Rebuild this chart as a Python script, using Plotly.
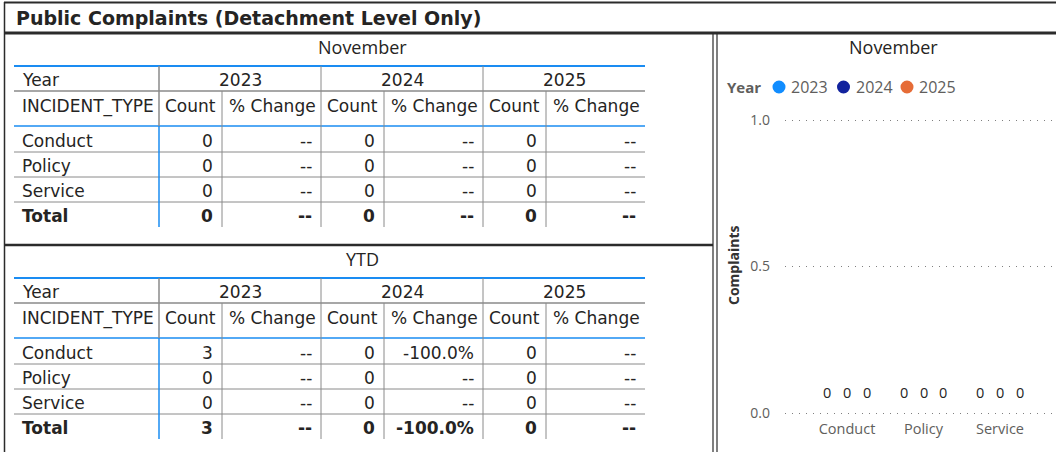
import plotly.graph_objects as go

# ---------------- data ----------------
years = ["2023", "2024", "2025"]
incident_types = ["Conduct", "Policy", "Service"]

# November table (per year: counts for Conduct, Policy, Service)
nov_counts = [[0, 0, 0], [0, 0, 0], [0, 0, 0]]
nov_pct = [["--", "--", "--"], ["--", "--", "--"], ["--", "--", "--"]]
nov_total_counts = [0, 0, 0]
nov_total_pct = ["--", "--", "--"]

# YTD table
ytd_counts = [[3, 0, 0], [0, 0, 0], [0, 0, 0]]
ytd_pct = [["--", "--", "--"], ["-100.0%", "--", "--"], ["--", "--", "--"]]
ytd_total_counts = [3, 0, 0]
ytd_total_pct = ["--", "-100.0%", "--"]

# November chart values (per year, per incident type)
chart_counts = [[0, 0, 0], [0, 0, 0], [0, 0, 0]]
chart_ticks = [0.0, 0.5, 1.0]
year_colors = ["#118DFF", "#12239E", "#E66C37"]

# ---------------- layout helpers ----------------
W, H = 1056, 452
TFONT = "DejaVu Sans"
CFONT = "Segoe UI, Open Sans, sans-serif"


def px(x):
    return x / W


def py(y):
    return 1 - y / H


shapes = []
annotations = []


def hline(x0, x1, y, color, width=1):
    shapes.append(dict(type="line", xref="paper", yref="paper", x0=px(x0), x1=px(x1),
                       y0=py(y), y1=py(y), line=dict(color=color, width=width)))


def vline(x, y0, y1, color, width=1):
    shapes.append(dict(type="line", xref="paper", yref="paper", x0=px(x), x1=px(x),
                       y0=py(y0), y1=py(y1), line=dict(color=color, width=width)))


def text(x, y, s, size=17, color="#252423", anchor="left", bold=False, family=TFONT):
    if bold:
        s = "<b>" + s + "</b>"
    annotations.append(dict(xref="paper", yref="paper", x=px(x), y=py(y), text=s,
                            showarrow=False, xanchor=anchor, yanchor="middle",
                            font=dict(family=family, size=size, color=color)))


BLUE = "#1A8CF2"
GRAY = "#8A8A8A"
cols = [14, 159, 222, 321, 384, 483, 546, 645]


def draw_table(top, title, counts, pcts, tot_counts, tot_pcts):
    text(362, top - 19, title, size=18, color="#252423", anchor="center", family=CFONT)
    bottom = top + 161
    hline(cols[0], cols[-1], top, BLUE, 2)
    hline(cols[0], cols[-1], top + 25, GRAY, 1.5)
    hline(cols[0], cols[-1], top + 60, BLUE, 1.5)
    for k in range(3):
        hline(cols[0], cols[-1], top + 86 + 25 * k, GRAY, 1)
    # verticals
    vline(cols[1], top, top + 60, GRAY, 1.5)
    vline(cols[1], top + 60, bottom, BLUE, 1.5)
    for c in (cols[3], cols[5]):
        vline(c, top, bottom, GRAY, 1)
    for c in (cols[2], cols[4], cols[6]):
        vline(c, top + 25, bottom, GRAY, 1)
    # headers
    text(20, top + 14, "Year")
    text(20, top + 40, "INCIDENT_TYPE")
    for i, yr in enumerate(years):
        c0, c1, c2 = cols[1 + 2 * i], cols[2 + 2 * i], cols[3 + 2 * i]
        text((c0 + c2) / 2, top + 14, yr, anchor="center")
        text((c0 + c1) / 2, top + 40, "Count", anchor="center")
        text((c1 + c2) / 2 + 1, top + 40, "% Change", anchor="center")
    # body
    for r, name in enumerate(incident_types):
        yy = top + 75 + 25 * r
        text(20, yy, name)
        for i in range(len(years)):
            text(cols[2 + 2 * i] - 7, yy, str(counts[i][r]), anchor="right")
            text(cols[3 + 2 * i] - 7, yy, pcts[i][r], anchor="right")
    yy = top + 150
    text(20, yy, "Total", bold=True)
    for i in range(len(years)):
        text(cols[2 + 2 * i] - 7, yy, str(tot_counts[i]), anchor="right", bold=True)
        text(cols[3 + 2 * i] - 7, yy, tot_pcts[i], anchor="right", bold=True)


# ---------------- frame ----------------
FRAME = "#2B2B2B"
hline(4, W, 2.5, FRAME, 2)
vline(4.5, 2, H, FRAME, 1.5)
hline(4, W, 33, FRAME, 3)
hline(5, 713, 245, FRAME, 2.5)
vline(713, 33, H, FRAME, 1.2)
vline(717, 33, H, FRAME, 1.2)

text(14, 18, "Public Complaints (Detachment Level Only)", size=19, color="#252423", bold=True)

draw_table(66, "November", nov_counts, nov_pct, nov_total_counts, nov_total_pct)
draw_table(278, "YTD", ytd_counts, ytd_pct, ytd_total_counts, ytd_total_pct)

# ---------------- chart ----------------
fig = go.Figure()
bargap = 0.235
for i, yr in enumerate(years):
    fig.add_trace(go.Bar(x=incident_types, y=chart_counts[i], name=yr,
                         marker=dict(color=year_colors[i], line=dict(width=0)),
                         showlegend=False, cliponaxis=False))

bw = (1 - bargap) / len(years)
for i in range(len(years)):
    for j, v in enumerate(chart_counts[i]):
        annotations.append(dict(xref="x", yref="y", x=j + (i - 1) * bw, y=v, yshift=9,
                                text=str(v), showarrow=False, yanchor="bottom",
                                font=dict(family=CFONT, size=14.5, color="#252423")))

# chart title
text(893, 47, "November", size=18, color="#252423", anchor="center", family=CFONT)
# y-axis title
annotations.append(dict(xref="paper", yref="paper", x=px(733), y=py(266), text="<b>Complaints</b>",
                        showarrow=False, textangle=-90, xanchor="center", yanchor="middle",
                        font=dict(family=CFONT, size=14, color="#333333")))
# legend
text(725, 87, "<b>Year</b>", size=15, color="#605E5C", family=CFONT)
leg_x = [779, 843.5, 907]
for i, yr in enumerate(years):
    cx = leg_x[i]
    shapes.append(dict(type="circle", xref="paper", yref="paper",
                       x0=px(cx - 6.5), x1=px(cx + 6.5), y0=py(87 + 6.5), y1=py(87 - 6.5),
                       fillcolor=year_colors[i], line=dict(width=0)))
    text(cx + 10, 87, yr, size=16, color="#605E5C", family=CFONT)

plot_x0, plot_x1 = 785, W
y_top_px, y_zero_px, y_one_px, y_bot_px = 113, 413, 120, 416
cat_px = 76.5
x_first = 847
xr0 = -(x_first - plot_x0) / cat_px
xr1 = (len(incident_types) - 1) + (plot_x1 - (x_first + cat_px * (len(incident_types) - 1))) / cat_px
unit = y_zero_px - y_one_px
yr0 = -(y_bot_px - y_zero_px) / unit
yr1 = (y_zero_px - y_top_px) / unit

fig.update_layout(
    width=W, height=H, autosize=False,
    margin=dict(l=0, r=0, t=0, b=0, pad=0, autoexpand=False),
    paper_bgcolor="white", plot_bgcolor="white",
    barmode="group", bargap=bargap, bargroupgap=0,
    shapes=shapes, annotations=annotations,
    showlegend=False,
    xaxis=dict(domain=[px(plot_x0), 1], range=[xr0, xr1], type="category",
               automargin=False,
               showgrid=False, zeroline=False, showline=False, ticks="",
               ticklabelstandoff=2,
               tickfont=dict(family=CFONT, size=14.5, color="#605E5C")),
    yaxis=dict(domain=[py(y_bot_px), py(y_top_px)], range=[yr0, yr1],
               automargin=False,
               tickvals=chart_ticks, ticktext=[f"{t:.1f}" for t in chart_ticks],
               showgrid=True, gridcolor="#7F7F7F", gridwidth=1, griddash="1px,6px",
               zeroline=False, showline=False, ticks="", ticklabelstandoff=14,
               tickfont=dict(family=CFONT, size=14, color="#605E5C")),
)

fig.write_html(
    "out.html",
    config={"displayModeBar": False},
    post_script=(
        "document.documentElement.style.margin='0';"
        "document.documentElement.style.overflow='hidden';"
        "document.body.style.margin='0';document.body.style.padding='0';"
        "document.body.style.overflow='hidden';document.body.style.height='452px';"
        "var d=document.getElementById('{plot_id}');"
        "d.style.position='fixed';d.style.top='0px';d.style.left='0px';"
    ),
)
